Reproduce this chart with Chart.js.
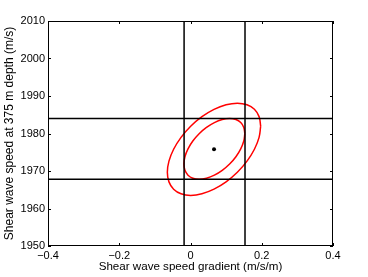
<!DOCTYPE html>
<html>
<head>
<meta charset="utf-8">
<script src="https://cdn.jsdelivr.net/npm/chart.js@4/dist/chart.umd.min.js"></script>
<style>
html,body{margin:0;padding:0;background:#fff;}
#wrap{width:368px;height:277px;position:relative;}
</style>
</head>
<body>
<div id="wrap"><canvas id="c" width="368" height="277"></canvas></div>
<script>
// Estimate (center point)
const centerPoint = [{x: 0.066, y: 1975.8}];
// Marginal interval lines
const verticalLineX = [-0.018, 0.153];
const horizontalLineY = [1984.0, 1967.8];
// Inner ellipse points
const innerEllipseX = [0.1525,0.1496,0.1410,0.1275,0.1098,0.0891,0.0670,0.0449,0.0242,0.0065,-0.0070,-0.0156,-0.0185,-0.0156,-0.0070,0.0065,0.0242,0.0449,0.0670,0.0891,0.1098,0.1275,0.1410,0.1496,0.1525];
const innerEllipseY = [1979.95,1981.63,1982.91,1983.72,1984.0,1983.72,1982.91,1981.63,1979.95,1978.0,1975.9,1973.8,1971.85,1970.17,1968.89,1968.08,1967.8,1968.08,1968.89,1970.17,1971.85,1973.8,1975.9,1978.0,1979.95];
// Outer ellipse points
const outerEllipseX = [0.197,0.1925,0.1794,0.1586,0.1315,0.0999,0.066,0.0321,0.0005,-0.0266,-0.0474,-0.0605,-0.065,-0.0605,-0.0474,-0.0266,0.0005,0.0321,0.066,0.0999,0.1315,0.1586,0.1794,0.1925,0.197];
const outerEllipseY = [1981.95,1984.5,1986.45,1987.68,1988.1,1987.68,1986.45,1984.5,1981.95,1978.98,1975.8,1972.62,1969.65,1967.1,1965.15,1963.92,1963.5,1963.92,1965.15,1967.1,1969.65,1972.62,1975.8,1978.98,1981.95];
// Axis ranges / ticks
const xTicks = [-0.4, -0.2, 0, 0.2, 0.4];
const yTicks = [1950, 1960, 1970, 1980, 1990, 2000, 2010];
const xTitle = 'Shear wave speed gradient (m/s/m)';
const yTitle = 'Shear wave speed at 375 m depth (m/s)';

const zip = (xs, ys) => xs.map((x, i) => ({x, y: ys[i]}));
const FONT = "'Liberation Sans', Arial, Helvetica, sans-serif";

const datasets = [];
verticalLineX.forEach(v => datasets.push({
  data: [{x: v, y: yTicks[0]}, {x: v, y: yTicks[yTicks.length - 1]}],
  showLine: true, borderColor: '#000', borderWidth: 1.5, pointRadius: 0, tension: 0
}));
horizontalLineY.forEach(v => datasets.push({
  data: [{x: xTicks[0], y: v}, {x: xTicks[xTicks.length - 1], y: v}],
  showLine: true, borderColor: '#000', borderWidth: 1.5, pointRadius: 0, tension: 0
}));
datasets.push({data: zip(innerEllipseX, innerEllipseY), showLine: true, borderColor: 'rgb(255,0,0)', borderWidth: 1.5, pointRadius: 0, tension: 0.4});
datasets.push({data: zip(outerEllipseX, outerEllipseY), showLine: true, borderColor: 'rgb(255,0,0)', borderWidth: 1.5, pointRadius: 0, tension: 0.4});
datasets.push({data: centerPoint, showLine: false, backgroundColor: '#000', borderColor: '#000', pointRadius: 2, borderWidth: 0});

const boxTicks = {
  id: 'boxTicks',
  afterDatasetsDraw(chart) {
    const ctx = chart.ctx, a = chart.chartArea;
    const xs = chart.scales.x, ys = chart.scales.y;
    ctx.save();
    ctx.strokeStyle = '#000';
    ctx.lineWidth = 1;
    ctx.strokeRect(a.left + 0.5, a.top + 0.5, a.right - a.left - 1, a.bottom - a.top - 1);
    const L = 3;
    ctx.beginPath();
    xTicks.forEach(t => {
      const p = Math.round(xs.getPixelForValue(t)) + 0.5;
      ctx.moveTo(p, a.bottom); ctx.lineTo(p, a.bottom - L);
      ctx.moveTo(p, a.top); ctx.lineTo(p, a.top + L);
    });
    yTicks.forEach(t => {
      const p = Math.round(ys.getPixelForValue(t)) + 0.5;
      ctx.moveTo(a.left, p); ctx.lineTo(a.left + L, p);
      ctx.moveTo(a.right, p); ctx.lineTo(a.right - L, p);
    });
    ctx.stroke();
    ctx.restore();
  }
};

new Chart(document.getElementById('c'), {
  type: 'scatter',
  data: {datasets},
  options: {
    responsive: false,
    animation: false,
    events: [],
    layout: {padding: {left: 0, right: 35, top: 21, bottom: 0}},
    plugins: {legend: {display: false}, tooltip: {enabled: false}},
    scales: {
      x: {
        type: 'linear', min: xTicks[0], max: xTicks[xTicks.length - 1],
        afterBuildTicks: s => { s.ticks = xTicks.map(v => ({value: v})); },
        afterFit: s => { s.height = 31; },
        grid: {display: false, drawTicks: false},
        border: {display: false},
        ticks: {
          padding: 3, color: '#000', maxRotation: 0, autoSkip: false,
          font: {family: FONT, size: 11},
          callback: v => { const r = Math.round(v * 10) / 10; return r === 0 ? '0' : (r < 0 ? '\u2212' + Math.abs(r).toFixed(1) : r.toFixed(1)); }
        },
        title: {display: true, text: xTitle, color: '#000', font: {family: FONT, size: 11.6}, padding: {top: 0, bottom: 3}}
      },
      y: {
        type: 'linear', min: yTicks[0], max: yTicks[yTicks.length - 1],
        afterBuildTicks: s => { s.ticks = yTicks.map(v => ({value: v})); },
        afterFit: s => { s.width = 48; },
        grid: {display: false, drawTicks: false},
        border: {display: false},
        ticks: {padding: 3, color: '#000', autoSkip: false, font: {family: FONT, size: 11}, callback: v => String(v)},
        title: {display: true, text: yTitle, color: '#000', font: {family: FONT, size: 12}, padding: {top: 2, bottom: 0}}
      }
    }
  },
  plugins: [boxTicks]
});
</script>
</body>
</html>
